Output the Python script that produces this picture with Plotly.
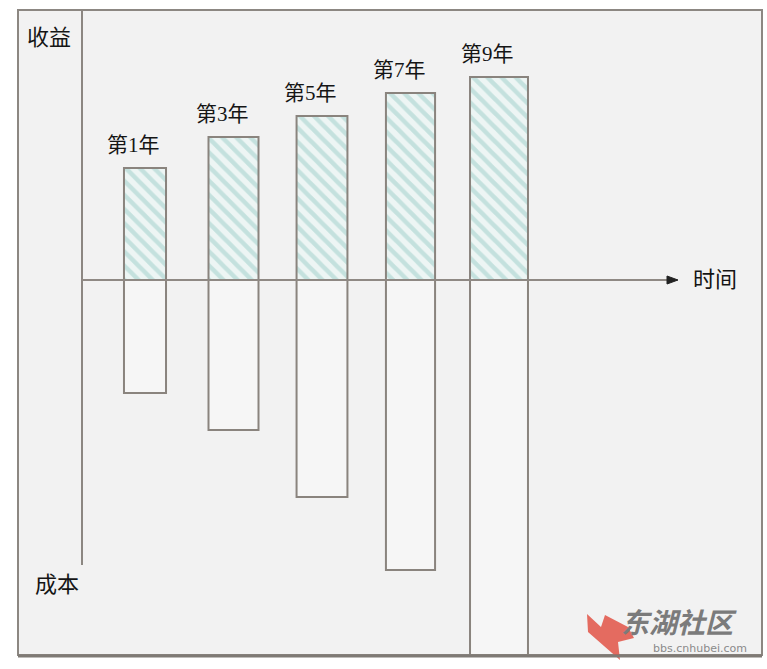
import plotly.graph_objects as go

# ---- data (arbitrary units, zero = time axis) ----
years = [1, 3, 5, 7, 9]
labels = ["第1年", "第3年", "第5年", "第7年", "第9年"]
income = [112, 143, 164, 187, 203]      # 收益 (above the axis)
cost = [113, 150, 217, 290, 375]        # 成本 (below the axis)

# ---- layout constants ----
W, H = 767, 669
bar_widths = [0.95, 1.13, 1.15, 1.11, 1.31]
edge = "#8a847e"
txt = "#151515"
font_fam = "Liberation Serif, Noto Sans CJK SC, serif"


def px(x):
    return x / W


def py(y):
    return 1 - y / H


fig = go.Figure()

fig.add_trace(go.Bar(
    x=years, y=income, base=0, width=bar_widths,
    marker=dict(
        color="#edf5f4",
        line=dict(color=edge, width=2),
        pattern=dict(shape="\\", fgcolor="#9ccdc8", bgcolor="#edf5f4",
                     size=10, solidity=0.45),
    ),
    hoverinfo="skip", showlegend=False,
))
fig.add_trace(go.Bar(
    x=years, y=[-c for c in cost], base=0, width=bar_widths,
    marker=dict(color="#f6f6f6", line=dict(color=edge, width=2)),
    hoverinfo="skip", showlegend=False,
))

annotations = []
for yr, val, lab in zip(years, income, labels):
    annotations.append(dict(
        x=yr - 0.25, y=val, xref="x", yref="y", text=lab, showarrow=False,
        xanchor="center", yanchor="bottom", yshift=9,
        font=dict(family=font_fam, size=21, color=txt),
    ))

for t, x, y in [("收益", 49, 37), ("成本", 57, 584), ("时间", 715, 280)]:
    annotations.append(dict(
        x=px(x), y=py(y), xref="paper", yref="paper", text=t, showarrow=False,
        xanchor="center", yanchor="middle",
        font=dict(family=font_fam, size=22, color=txt),
    ))

# watermark
annotations.append(dict(
    x=px(679), y=py(621), xref="paper", yref="paper", text="<b><i>东湖社区</i></b>",
    xanchor="center", yanchor="middle",
    showarrow=False, font=dict(family="Noto Sans CJK SC", size=28, color="#7b7b7b"),
))
annotations.append(dict(
    x=px(700), y=py(648), xref="paper", yref="paper", text="bbs.cnhubei.com",
    xanchor="center", yanchor="middle",
    showarrow=False, font=dict(family="DejaVu Sans", size=11, color="#8a8a8a"),
))

shapes = [
    # background panel
    dict(type="rect", xref="paper", yref="paper", x0=px(18), x1=px(762),
         y0=py(655), y1=py(10), fillcolor="#f2f2f2",
         line=dict(color="#8c8782", width=2), layer="below"),
    # thicker bottom edge
    dict(type="line", xref="paper", yref="paper", x0=px(18), x1=px(762),
         y0=py(656), y1=py(656), line=dict(color="#7f7a75", width=3)),
    # vertical axis
    dict(type="line", xref="paper", yref="paper", x0=px(82), x1=px(82),
         y0=py(10), y1=py(565), line=dict(color="#8c8782", width=2)),
    # horizontal time axis
    dict(type="line", xref="paper", yref="paper", x0=px(82), x1=px(670),
         y0=py(280), y1=py(280), line=dict(color="#8f8984", width=2)),
    # arrow head
    dict(type="path", xref="paper", yref="paper",
         path=f"M {px(667)},{py(276)} L {px(678)},{py(280)} L {px(667)},{py(284)} Z",
         fillcolor="#222222", line=dict(color="#222222", width=1)),
    # watermark logo
    dict(type="path", xref="paper", yref="paper",
         path=(f"M {px(587)},{py(614)} L {px(601)},{py(627)} L {px(605)},{py(615)} "
               f"L {px(628)},{py(627)} L {px(634)},{py(638)} L {px(618)},{py(642)} "
               f"L {px(620)},{py(660)} L {px(588)},{py(632)} Z"),
         fillcolor="rgba(226,84,70,0.85)", line=dict(width=0), layer="below"),
]

# axis ranges: 1 unit = 1 px vertically, zero line at y=280 px;
# year 1 at x=145 px, year 9 at x=499 px
ppy = (499 - 145) / 8
x0 = 1 - 145 / ppy
x1 = 1 + (W - 145) / ppy

fig.update_layout(
    width=W, height=H, margin=dict(l=0, r=0, t=0, b=0),
    paper_bgcolor="white", plot_bgcolor="rgba(0,0,0,0)",
    barmode="overlay",
    xaxis=dict(range=[x0, x1], visible=False, fixedrange=True),
    yaxis=dict(range=[280 - H, 280], visible=False, fixedrange=True),
    shapes=shapes, annotations=annotations, showlegend=False,
)

fig.write_html("out.html", config={"displayModeBar": False},
               post_script="document.body.style.margin='0';document.body.style.overflow='hidden';")
